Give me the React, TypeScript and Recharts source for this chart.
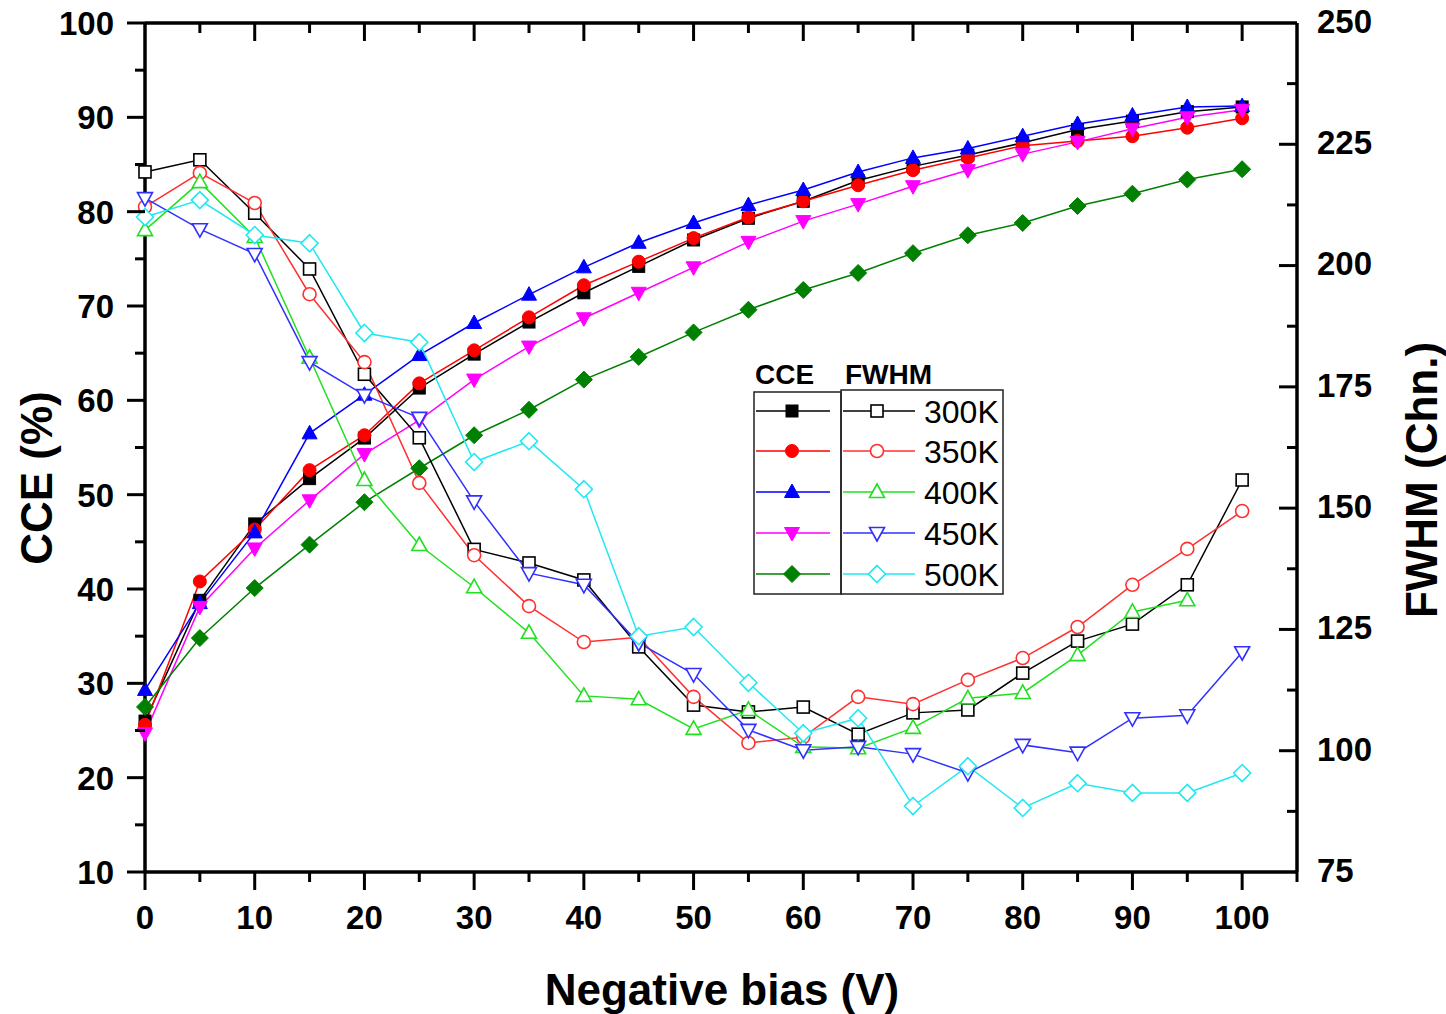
import React from 'react'
import { LineChart, Line, XAxis, YAxis, Legend, ReferenceLine } from 'recharts'

// bias voltage (V)
const bias = [0, 5, 10, 15, 20, 25, 30, 35, 40, 45, 50, 55, 60, 65, 70, 75, 80, 85, 90, 95, 100]
const temps = ['300K', '350K', '400K', '450K', '500K']

// CCE (%) — filled symbols, left axis
const cce300 = [26.0, 38.8, 46.9, 51.7, 56.0, 61.3, 64.9, 68.3, 71.4, 74.2, 77.0, 79.3, 81.1, 83.3, 84.8, 86.0, 87.3, 88.7, 89.6, 90.6, 91.1]
const cce350 = [25.6, 40.8, 46.3, 52.6, 56.3, 61.8, 65.3, 68.8, 72.2, 74.7, 77.2, 79.4, 81.1, 82.8, 84.4, 85.7, 87.0, 87.5, 88.0, 88.9, 89.9]
const cce400 = [29.3, 38.5, 46.0, 56.5, 60.6, 64.8, 68.2, 71.2, 74.1, 76.7, 78.8, 80.7, 82.3, 84.2, 85.7, 86.7, 88.0, 89.3, 90.2, 91.1, 91.2]
const cce450 = [24.7, 38.1, 44.3, 49.4, 54.3, 57.9, 62.2, 65.7, 68.7, 71.4, 74.1, 76.8, 79.0, 80.8, 82.7, 84.4, 86.1, 87.4, 88.8, 90.0, 90.8]
const cce500 = [27.5, 34.8, 40.1, 44.7, 49.2, 52.8, 56.3, 59.0, 62.2, 64.6, 67.2, 69.6, 71.7, 73.5, 75.6, 77.5, 78.8, 80.6, 81.9, 83.4, 84.5]

// FWHM (channels) — open symbols, right axis
const fw300 = [219.3, 221.8, 210.8, 199.3, 177.6, 164.5, 141.5, 138.7, 135.2, 121.4, 109.4, 108.0, 109.0, 103.4, 107.8, 108.4, 116.0, 122.6, 126.1, 134.2, 155.8]
const fw350 = [212.1, 219.1, 212.9, 194.1, 180.1, 155.2, 140.3, 129.8, 122.4, 123.4, 111.1, 101.6, 102.8, 111.1, 109.6, 114.6, 119.1, 125.5, 134.2, 141.6, 149.4]
const fw400 = [207.3, 217.2, 205.9, 181.0, 155.8, 142.4, 133.7, 124.3, 111.3, 110.6, 104.5, 108.4, 100.8, 100.5, 104.7, 110.8, 111.9, 119.7, 128.6, 131.0, null]
const fw450 = [213.9, 207.5, 202.4, 180.1, 173.3, 168.6, 151.4, 136.6, 134.2, 122.2, 115.8, 104.3, 100.1, 100.8, 99.3, 95.4, 101.2, 99.6, 106.7, 107.3, 120.3]
const fw500 = [210.0, 213.5, 206.3, 204.6, 186.1, 184.2, 159.5, 163.8, 153.9, 123.6, 125.5, 114.0, 103.6, 106.7, 88.6, 96.8, 88.2, 93.3, 91.3, 91.3, 95.4]

const biasTicks = [0, 5, 10, 15, 20, 25, 30, 35, 40, 45, 50, 55, 60, 65, 70, 75, 80, 85, 90, 95, 100, 105]
const cceTicks = [10, 15, 20, 25, 30, 35, 40, 45, 50, 55, 60, 65, 70, 75, 80, 85, 90, 95, 100]
const fwhmTicks = [75, 87.5, 100, 112.5, 125, 137.5, 150, 162.5, 175, 187.5, 200, 212.5, 225, 237.5, 250]

const FONT = '"Liberation Sans", Arial, Helvetica, sans-serif'
const LEFT = 145
const RIGHT = 1297
const TOP = 23
const BOTTOM = 872

type Shape = 'square' | 'circle' | 'up' | 'down' | 'diamond'

const cceSeries = [
  { key: 'cce300', color: '#000000', shape: 'square' as Shape },
  { key: 'cce350', color: '#ff0000', shape: 'circle' as Shape },
  { key: 'cce400', color: '#0000ff', shape: 'up' as Shape },
  { key: 'cce450', color: '#ff00ff', shape: 'down' as Shape },
  { key: 'cce500', color: '#008000', shape: 'diamond' as Shape },
]
const fwSeries = [
  { key: 'fw300', color: '#000000', shape: 'square' as Shape },
  { key: 'fw350', color: '#ff3030', shape: 'circle' as Shape },
  { key: 'fw400', color: '#20e020', shape: 'up' as Shape },
  { key: 'fw450', color: '#3030ff', shape: 'down' as Shape },
  { key: 'fw500', color: '#20e8f0', shape: 'diamond' as Shape },
]

const cceData = [cce300, cce350, cce400, cce450, cce500]
const fwData = [fw300, fw350, fw400, fw450, fw500]

const data = bias.map((b, i) => {
  const row: Record<string, number | null> = { bias: b }
  cceSeries.forEach((s, k) => { row[s.key] = cceData[k][i] })
  fwSeries.forEach((s, k) => { row[s.key] = fwData[k][i] })
  return row
})

function Marker({ shape, cx, cy, color, filled }: {
  shape: Shape; cx: number; cy: number; color: string; filled: boolean
}) {
  const fill = filled ? color : '#ffffff'
  const sw = filled ? 1 : 1.6
  switch (shape) {
    case 'square':
      return <rect x={cx - 6} y={cy - 6} width={12} height={12} fill={fill} stroke={color} strokeWidth={sw} />
    case 'circle':
      return <circle cx={cx} cy={cy} r={6.5} fill={fill} stroke={color} strokeWidth={sw} />
    case 'up':
      return <polygon points={`${cx},${cy - 8} ${cx - 7.5},${cy + 5.5} ${cx + 7.5},${cy + 5.5}`} fill={fill} stroke={color} strokeWidth={sw} />
    case 'down':
      return <polygon points={`${cx},${cy + 8} ${cx - 7.5},${cy - 5.5} ${cx + 7.5},${cy - 5.5}`} fill={fill} stroke={color} strokeWidth={sw} />
    default:
      return <polygon points={`${cx},${cy - 8.5} ${cx + 8.5},${cy} ${cx},${cy + 8.5} ${cx - 8.5},${cy}`} fill={fill} stroke={color} strokeWidth={sw} />
  }
}

function makeDot(key: string, shape: Shape, color: string, filled: boolean) {
  return (p: any) => {
    if (p.cx == null || p.cy == null || p.value == null) return <g key={`${key}-${p.index}`} />
    return (
      <g key={`${key}-${p.index}`}>
        <Marker shape={shape} cx={p.cx} cy={p.cy} color={color} filled={filled} />
      </g>
    )
  }
}

const tickText = { fontSize: 33, fontWeight: 'bold' as const, fontFamily: FONT, fill: '#000' }

function LeftTick(props: any) {
  const { y, payload } = props
  const v = payload.value
  const major = v % 10 === 0
  return (
    <g>
      <line x1={LEFT} x2={LEFT - (major ? 18 : 10)} y1={y} y2={y} stroke="#000" strokeWidth={3} />
      {major && <text x={LEFT - 31} y={y} dy="0.36em" textAnchor="end" {...tickText}>{v}</text>}
    </g>
  )
}

function RightTick(props: any) {
  const { y, payload } = props
  const v = payload.value
  const major = v % 25 === 0
  return (
    <g>
      {v !== 75 && v !== 250 && (
        <line x1={RIGHT} x2={RIGHT - (major ? 18 : 10)} y1={y} y2={y} stroke="#000" strokeWidth={3} />
      )}
      {major && <text x={RIGHT + 20} y={y} dy="0.3em" textAnchor="start" {...tickText}>{v}</text>}
    </g>
  )
}

// bottom ticks point outwards; the matching top-frame ticks point inwards
function BottomTick(props: any) {
  const { x, payload } = props
  const v = payload.value
  const major = v % 10 === 0
  const len = major ? 18 : 10
  return (
    <g>
      <line x1={x} x2={x} y1={BOTTOM} y2={BOTTOM + len} stroke="#000" strokeWidth={3} />
      {v !== 0 && v !== 105 && (
        <line x1={x} x2={x} y1={TOP} y2={TOP + len} stroke="#000" strokeWidth={3} />
      )}
      {major && v <= 100 && <text x={x} y={BOTTOM + 57} textAnchor="middle" {...tickText}>{v}</text>}
    </g>
  )
}

function AxisTitle({ tx, ty, rot, text }: { tx: number; ty: number; rot: number; text: string }) {
  return (
    <text
      x={tx}
      y={ty}
      transform={rot ? `rotate(${rot} ${tx} ${ty})` : undefined}
      textAnchor="middle"
      fontSize={44}
      fontWeight="bold"
      fontFamily={FONT}
      fill="#000"
    >
      {text}
    </text>
  )
}

const LG_X = 740
const LG_Y = 350
const rowY = [411, 451, 492, 533, 574]

function LegendBox() {
  return (
    <svg width={280} height={260} style={{ display: 'block' }}>
      <g transform={`translate(${-LG_X}, ${-LG_Y})`}>
        <text x={755} y={384} fontSize={28} fontWeight="bold" fontFamily={FONT}>CCE</text>
        <text x={845} y={384} fontSize={28} fontWeight="bold" fontFamily={FONT}>FWHM</text>
        <rect x={754} y={392} width={87} height={202} fill="none" stroke="#222" strokeWidth={1.5} />
        <rect x={841} y={390} width={162} height={204} fill="none" stroke="#222" strokeWidth={1.5} />
        {temps.map((t, i) => (
          <g key={t}>
            <line x1={756} x2={830} y1={rowY[i]} y2={rowY[i]} stroke={cceSeries[i].color} strokeWidth={1.5} />
            <Marker shape={cceSeries[i].shape} cx={792} cy={rowY[i]} color={cceSeries[i].color} filled />
            <line x1={843} x2={915} y1={rowY[i]} y2={rowY[i]} stroke={fwSeries[i].color} strokeWidth={1.5} />
            <Marker shape={fwSeries[i].shape} cx={877} cy={rowY[i]} color={fwSeries[i].color} filled={false} />
            <text x={924} y={rowY[i]} dy="0.36em" fontSize={32} fontFamily={FONT} fill="#000">{t}</text>
          </g>
        ))}
      </g>
    </svg>
  )
}

export default function App() {
  return (
    <div style={{ width: 1446, height: 1014, background: '#fff' }}>
      <style>{'body{margin:0}'}</style>
      <LineChart
        width={1446}
        height={1014}
        data={data}
        margin={{ top: TOP, right: 29, bottom: 82, left: 25 }}
      >
        <XAxis
          xAxisId="bottom"
          dataKey="bias"
          type="number"
          domain={[0, 105]}
          ticks={biasTicks}
          interval={0}
          height={60}
          tickSize={0}
          tickMargin={0}
          tickLine={false}
          tick={<BottomTick />}
          axisLine={{ stroke: '#000', strokeWidth: 3.5 }}
          label={<AxisTitle tx={722} ty={1005} rot={0} text="Negative bias (V)" />}
        />
        <YAxis
          yAxisId="cce"
          domain={[10, 100]}
          ticks={cceTicks}
          interval={0}
          width={120}
          tickSize={0}
          tickMargin={0}
          tickLine={false}
          tick={<LeftTick />}
          axisLine={{ stroke: '#000', strokeWidth: 3.5 }}
          label={<AxisTitle tx={52} ty={478} rot={-90} text="CCE (%)" />}
        />
        <YAxis
          yAxisId="fwhm"
          orientation="right"
          domain={[75, 250]}
          ticks={fwhmTicks}
          interval={0}
          width={120}
          tickSize={0}
          tickMargin={0}
          tickLine={false}
          tick={<RightTick />}
          axisLine={{ stroke: '#000', strokeWidth: 3.5 }}
          label={<AxisTitle tx={1437} ty={480} rot={-90} text="FWHM (Chn.)" />}
        />
        {/* top frame */}
        <ReferenceLine xAxisId="bottom" yAxisId="cce" y={100} stroke="#000" strokeWidth={3.5} />
        {cceSeries.map(s => (
          <Line
            key={s.key}
            xAxisId="bottom"
            yAxisId="cce"
            type="linear"
            dataKey={s.key}
            stroke={s.color}
            strokeWidth={1.5}
            dot={makeDot(s.key, s.shape, s.color, true)}
            activeDot={false}
            isAnimationActive={false}
          />
        ))}
        {fwSeries.map(s => (
          <Line
            key={s.key}
            xAxisId="bottom"
            yAxisId="fwhm"
            type="linear"
            dataKey={s.key}
            stroke={s.color}
            strokeWidth={1.5}
            dot={makeDot(s.key, s.shape, s.color, false)}
            activeDot={false}
            connectNulls={false}
            isAnimationActive={false}
          />
        ))}
        <Legend
          layout="vertical"
          align="center"
          verticalAlign="middle"
          content={() => <LegendBox />}
          wrapperStyle={{ position: 'absolute', left: LG_X, top: LG_Y, width: 280, height: 260 }}
        />
      </LineChart>
    </div>
  )
}
